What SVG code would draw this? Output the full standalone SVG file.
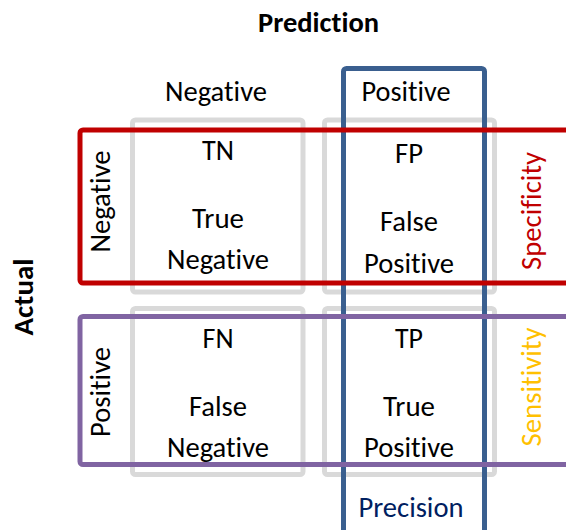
<svg xmlns="http://www.w3.org/2000/svg" width="566" height="530" viewBox="0 0 566 530">
<style>
text{font-family:Carlito,"Open Sans","Liberation Sans",sans-serif;font-size:28px;fill:#000;text-anchor:middle;font-variant-ligatures:none;font-feature-settings:"liga" 0,"clig" 0,"dlig" 0}
.b{font-weight:bold}
.cell{fill:none;stroke:#d9d9d9;stroke-width:5}
.band{fill:none;stroke-width:5}
</style>
<rect width="566" height="530" fill="#fff"/>
<g id="cell-tn">
<rect class="cell" x="132.5" y="120" width="170.5" height="172" rx="3"/>
<text x="218" y="160" textLength="32" lengthAdjust="spacingAndGlyphs">TN</text>
<text x="218" y="228" textLength="52" lengthAdjust="spacingAndGlyphs">True</text>
<text x="218" y="269" textLength="102" lengthAdjust="spacingAndGlyphs">Negative</text>
</g>
<g id="cell-fp">
<rect class="cell" x="324.5" y="120" width="170" height="172" rx="3"/>
<text x="409" y="163" textLength="28" lengthAdjust="spacingAndGlyphs">FP</text>
<text x="409" y="231" textLength="58" lengthAdjust="spacingAndGlyphs">False</text>
<text x="409" y="273" textLength="90" lengthAdjust="spacingAndGlyphs">Positive</text>
</g>
<g id="cell-fn">
<rect class="cell" x="132.5" y="308.5" width="170.5" height="166" rx="3"/>
<text x="218" y="348" textLength="31" lengthAdjust="spacingAndGlyphs">FN</text>
<text x="218" y="416" textLength="58" lengthAdjust="spacingAndGlyphs">False</text>
<text x="218" y="457" textLength="102" lengthAdjust="spacingAndGlyphs">Negative</text>
</g>
<g id="cell-tp">
<rect class="cell" x="324.5" y="308.5" width="170" height="166" rx="3"/>
<text x="409" y="348" textLength="28" lengthAdjust="spacingAndGlyphs">TP</text>
<text x="409" y="416" textLength="52" lengthAdjust="spacingAndGlyphs">True</text>
<text x="409" y="457" textLength="90" lengthAdjust="spacingAndGlyphs">Positive</text>
</g>
<g id="precision">
<rect class="band" stroke="#3a5f8f" x="343.5" y="68.5" width="141" height="480" rx="3"/>
<text x="406" y="101" textLength="89" lengthAdjust="spacingAndGlyphs">Positive</text>
<text x="411" y="517" textLength="105" lengthAdjust="spacingAndGlyphs" style="fill:#002060">Precision</text>
</g>
<g id="specificity">
<rect class="band" stroke="#c00000" x="80" y="130" width="520" height="153" rx="3"/>
<text transform="translate(110,201.5) rotate(-90)" textLength="102" lengthAdjust="spacingAndGlyphs">Negative</text>
<text transform="translate(541,211) rotate(-90)" textLength="118" lengthAdjust="spacingAndGlyphs" style="fill:#c00000">Specificity</text>
</g>
<g id="sensitivity">
<rect class="band" stroke="#8064a2" x="80" y="316.5" width="520" height="148" rx="3"/>
<text transform="translate(110,392) rotate(-90)" textLength="90" lengthAdjust="spacingAndGlyphs">Positive</text>
<text transform="translate(541,387) rotate(-90)" textLength="119" lengthAdjust="spacingAndGlyphs" style="fill:#ffc000">Sensitivity</text>
</g>
<g id="headers">
<text class="b" x="318.5" y="32" textLength="121" lengthAdjust="spacingAndGlyphs">Prediction</text>
<text x="216" y="101" textLength="102" lengthAdjust="spacingAndGlyphs">Negative</text>
<text class="b" transform="translate(33,297) rotate(-90)" textLength="77" lengthAdjust="spacingAndGlyphs">Actual</text>
</g>
<g id="connectors"/>
</svg>
